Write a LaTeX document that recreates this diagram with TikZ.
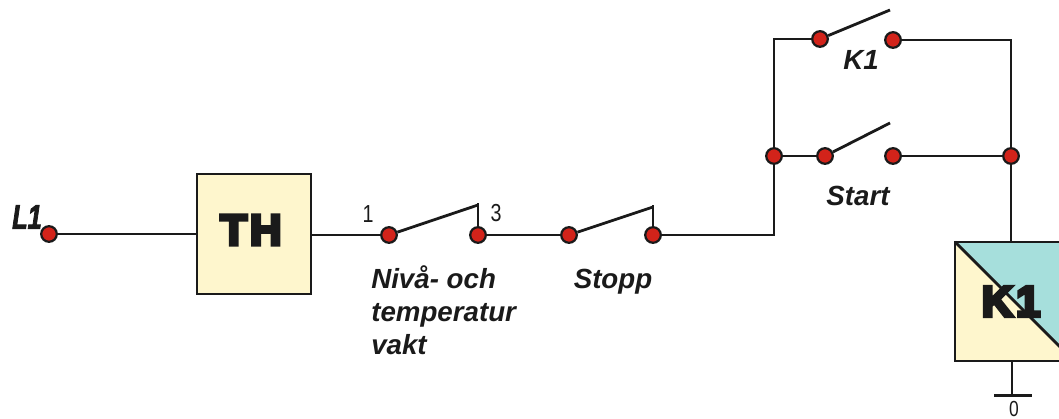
\documentclass[tikz,border=0pt]{standalone}
\usepackage{fontspec}
\setmainfont{Liberation Sans}
\newfontfamily\heavyfont[FakeBold=8,LetterSpace=7]{Liberation Sans Bold}
\newfontfamily\lineonefont[FakeBold=3]{Liberation Sans Bold Italic}
\usetikzlibrary{positioning,calc}
\definecolor{boxyellow}{HTML}{FEF6CD}
\definecolor{boxteal}{HTML}{A6DFDC}
\definecolor{dotred}{HTML}{D2231A}
\definecolor{wireblack}{HTML}{1A1A1A}

\begin{document}
\begin{tikzpicture}[
    x=0.025cm, y=-0.025cm,
    wire/.style={draw=wireblack, line width=2pt},
    dot/.style={circle, draw=wireblack, line width=1.6pt, fill=dotred, minimum size=0.39cm, inner sep=0pt},
    relay/.style={rectangle, draw=wireblack, line width=2pt, fill=boxyellow, inner sep=0pt, outer sep=0pt},
    heavy/.style={font=\heavyfont\fontsize{31}{31}\selectfont, text=wireblack, inner sep=0pt},
    tag/.style={font=\bfseries\itshape\fontsize{19.7}{23.5}\selectfont, text=wireblack, align=left, inner sep=0pt},
    pin/.style={font=\fontsize{17.5}{17.5}\selectfont, text=wireblack, xscale=0.8, inner sep=0pt}
]
\useasboundingbox (0,0) rectangle (1059,419);

% Boxes
\node[relay, minimum width=2.85cm, minimum height=3cm] (th) at (254,234) {};
\node[relay, minimum width=2.975cm, minimum height=2.975cm] (k1box) at (1014.5,301.5) {};
\fill[boxteal] (k1box.north west) -- (k1box.north east) -- (k1box.south east) -- cycle;
\draw[wire] (k1box.north west) -- (k1box.south east);
\draw[wire] (k1box.north west) rectangle (k1box.south east);
\node[heavy] (thtext) at (251,230) {TH};
\node[heavy] (k1text) at (1011,301.5) {K1};

% Contacts
\node[dot] (l1) at (49,234) {};
\node[dot] (vakt1) at (389,235) {};
\node[dot] (vakt2) at (478,235) {};
\node[dot] (stopp1) at (569,235) {};
\node[dot] (stopp2) at (653,235) {};
\node[dot] (juncl) at (774,156) {};
\node[dot] (juncr) at (1011,156) {};
\node[dot] (hold1) at (820,39) {};
\node[dot] (hold2) at (893,40) {};
\node[dot] (start1) at (825,156) {};
\node[dot] (start2) at (893,156) {};

% Free ends
\coordinate (vakttop) at (478,203);
\coordinate (vaktend) at (478,205);
\coordinate (stopptop) at (653,205);
\coordinate (stoppend) at (653,207);
\coordinate (holdend) at (890,10);
\coordinate (startend) at (890,123);
\coordinate (gnd) at (1012,395.5);
\coordinate (gndl) at (994,395.5);
\coordinate (gndr) at (1032,395.5);

% Main line
\draw[wire] (l1) -- (th);
\draw[wire] (th.east |- vakt1) -- (vakt1);
\draw[wire] (vakt1) -- (vaktend);
\draw[wire] (vakt2) -- (vakttop);
\draw[wire] (vakt2) -- (stopp1);
\draw[wire] (stopp1) -- (stoppend);
\draw[wire] (stopp2) -- (stopptop);
\draw[wire] (stopp2) -| (juncl);

% Parallel branches
\draw[wire] (juncl) |- (hold1);
\draw[wire] (hold1) -- (holdend);
\draw[wire] (hold2) -| (juncr);
\draw[wire] (juncl) -- (start1);
\draw[wire] (start1) -- (startend);
\draw[wire] (start2) -- (juncr);

% Coil
\draw[wire] (juncr) -- (juncr |- k1box.north);
\draw[wire] (gnd |- k1box.south) -- (gnd);
\draw[wire] (gndl) -- (gndr);

% Labels
\node[tag, font=\lineonefont\fontsize{24}{24}\selectfont, xscale=0.75] (l1text) at (27,217) {L1};
\node[tag] (holdtext) at (861,60) {K1};
\node[tag] (starttext) at (858,196) {Start};
\node[tag] (stopptext) at (613,282) {Stopp};
\node[tag, anchor=north west] (vakttext) at (371,265) {Nivå- och\\temperatur\\vakt};
\node[pin] (pin1) at (368,214) {1};
\node[pin] (pin3) at (496,213) {3};
\node[pin, font=\fontsize{15.5}{15.5}\selectfont] (pin0) at (1014,408.5) {0};

\end{tikzpicture}
\end{document}
